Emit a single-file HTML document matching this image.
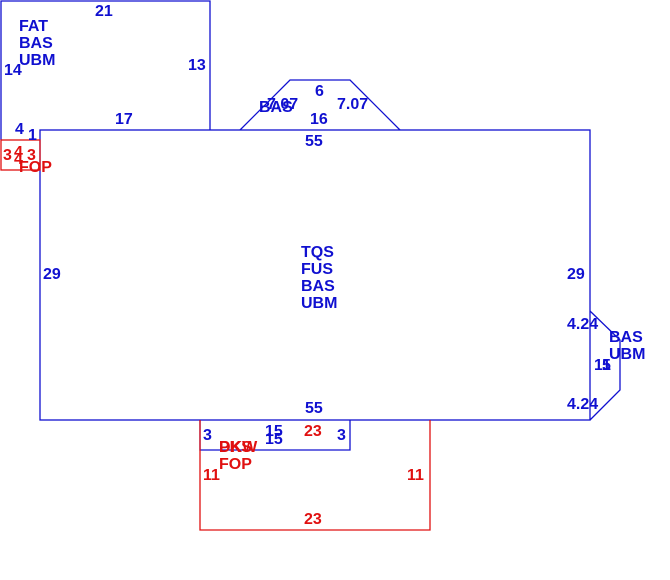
<!DOCTYPE html>
<html><head><meta charset="utf-8"><style>
html,body{margin:0;padding:0;background:#fff;}
svg{display:block;}
text{font-family:"Liberation Sans",Arial,sans-serif;font-size:16px;font-weight:bold;}
.b{fill:#1010d0;}
.r{fill:#e01010;}
</style></head><body>
<svg width="670" height="580" viewBox="0 0 670 580" xmlns="http://www.w3.org/2000/svg">
<g fill="none" stroke="#1010d0" stroke-width="1.3">
<polyline points="1,140 1,1 210,1 210,130"/>
<rect x="40" y="130" width="550" height="290"/>
<polyline points="240,130 290,80 350,80 400,130"/>
<polyline points="590,311 620,340 620,390 590,420"/>
<polyline points="200,420 200,450 350,450 350,420"/>
</g>
<g fill="none" stroke="#e01010" stroke-width="1.3">
<rect x="1" y="140" width="39" height="30"/>
<polyline points="200,420 200,530 430,530 430,420"/>
</g>
<g class="b">
<text x="95" y="16">21</text>
<text x="19" y="31">FAT</text>
<text x="19" y="48">BAS</text>
<text x="19" y="65">UBM</text>
<text x="4" y="75">14</text>
<text x="188" y="70">13</text>
<text x="115" y="124">17</text>
<text x="15" y="134">4</text>
<text x="28" y="140">1</text>
<text x="315" y="96">6</text>
<text x="259" y="112">BAS</text>
<text x="267" y="109">7.07</text>
<text x="337" y="109">7.07</text>
<text x="310" y="124">16</text>
<text x="305" y="146">55</text>
<text x="301" y="257">TQS</text>
<text x="301" y="274">FUS</text>
<text x="301" y="291">BAS</text>
<text x="301" y="308">UBM</text>
<text x="43" y="279">29</text>
<text x="567" y="279">29</text>
<text x="567" y="329">4.24</text>
<text x="609" y="342">BAS</text>
<text x="609" y="359">UBM</text>
<text x="594" y="370">11</text>
<text x="602" y="370">5</text>
<text x="567" y="409">4.24</text>
<text x="305" y="413">55</text>
<text x="203" y="440">3</text>
<text x="265" y="436">15</text>
<text x="265" y="444">15</text>
<text x="337" y="440">3</text>
</g>
<g class="r">
<text x="3" y="160">3</text>
<text x="14" y="157">4</text>
<text x="14" y="164">4</text>
<text x="27" y="160">3</text>
<text x="19" y="172">FOP</text>
<text x="304" y="436">23</text>
<text x="219" y="452">DKW</text>
<text x="219" y="452">PKS</text>
<text x="219" y="469">FOP</text>
<text x="203" y="480">11</text>
<text x="407" y="480">11</text>
<text x="304" y="524">23</text>
</g>
</svg>
</body></html>
